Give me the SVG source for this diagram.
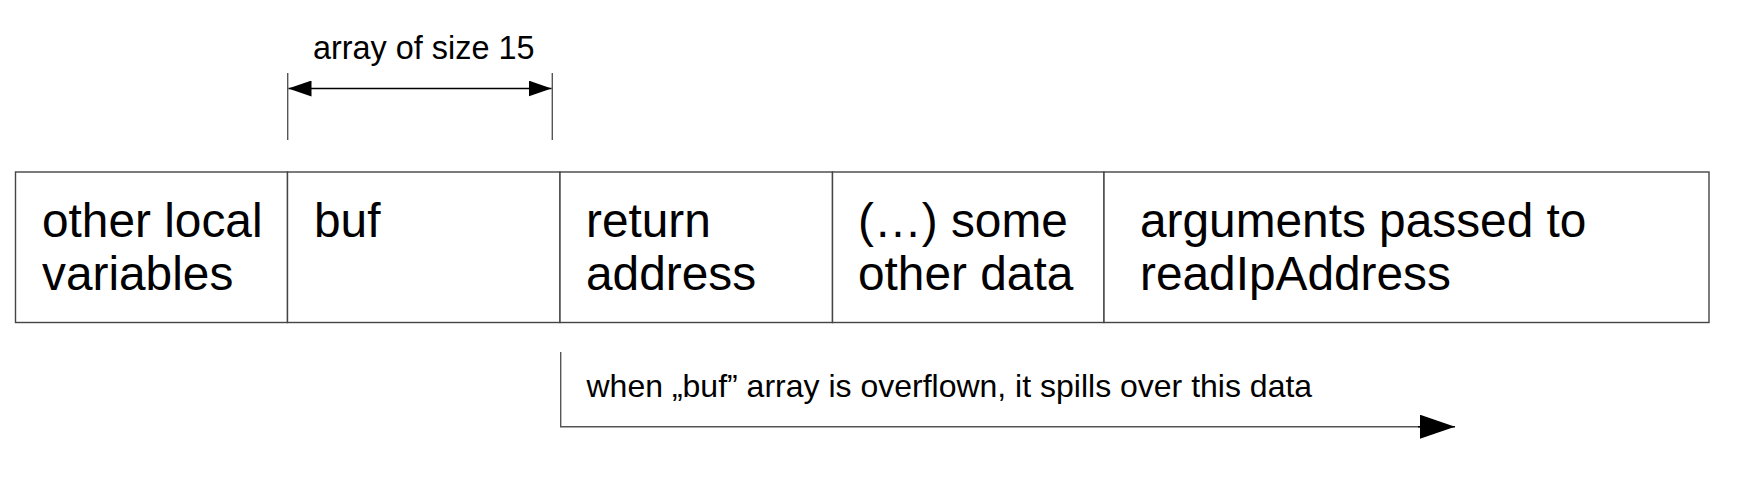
<svg xmlns="http://www.w3.org/2000/svg" width="1760" height="480" viewBox="0 0 1760 480">
<style>
.cell{fill:#ffffff;stroke:#444444;stroke-width:1.4}
.big{font-family:"Liberation Sans",Arial,sans-serif;font-size:47.8px;fill:#000000}
.lbl{font-family:"Liberation Sans",Arial,sans-serif;fill:#000000}
.tick{stroke:#555555;stroke-width:1.4;fill:none}
.ln{stroke:#000000;stroke-width:1.6;fill:none}
</style>
<defs>
<marker id="ah" viewBox="0 0 23 16" refX="23" refY="8" markerWidth="23" markerHeight="16" markerUnits="userSpaceOnUse" orient="auto-start-reverse">
<path d="M0,0 L23,8 L0,16 Z" fill="#000000"/>
</marker>
<marker id="ahb" viewBox="0 0 35 24" refX="35" refY="12" markerWidth="35" markerHeight="24" markerUnits="userSpaceOnUse" orient="auto">
<path d="M0,0 L35,12 L0,24 Z" fill="#000000"/>
</marker>
</defs>
<rect width="1760" height="480" fill="#ffffff"/>
<g id="node-other-locals">
<rect class="cell" x="15.5" y="172" width="272" height="150.5"/>
<text class="big" x="42" y="237">other local</text>
<text class="big" x="42" y="290">variables</text>
</g>
<g id="node-buf">
<rect class="cell" x="287.5" y="172" width="272.5" height="150.5"/>
<text class="big" x="314" y="237">buf</text>
</g>
<g id="node-return">
<rect class="cell" x="560" y="172" width="272.5" height="150.5"/>
<text class="big" x="586" y="237">return</text>
<text class="big" x="586" y="290">address</text>
</g>
<g id="node-other-data">
<rect class="cell" x="832.5" y="172" width="271.5" height="150.5"/>
<text class="big" x="858" y="237">(…) some</text>
<text class="big" x="858" y="290">other data</text>
</g>
<g id="node-arguments">
<rect class="cell" x="1104" y="172" width="605" height="150.5"/>
<text class="big" x="1140" y="237">arguments passed to</text>
<text class="big" x="1140" y="290">readIpAddress</text>
</g>
<g id="connectors">
<line class="tick" x1="287.7" y1="73" x2="287.7" y2="140"/>
<line class="tick" x1="552.3" y1="73" x2="552.3" y2="140"/>
<line class="ln" x1="288.5" y1="88.5" x2="551.5" y2="88.5" marker-start="url(#ah)" marker-end="url(#ah)"/>
<text class="lbl" x="313" y="59" font-size="32.4">array of size 15</text>
<path class="tick" d="M560.7,352 L560.7,426.7 L1422,426.7"/>
<line class="ln" x1="1418" y1="426.7" x2="1455" y2="426.7" marker-end="url(#ahb)" stroke-width="0.5"/>
<text class="lbl" x="586.5" y="396.5" font-size="32">when „buf” array is overflown, it spills over this data</text>
</g>
</svg>
